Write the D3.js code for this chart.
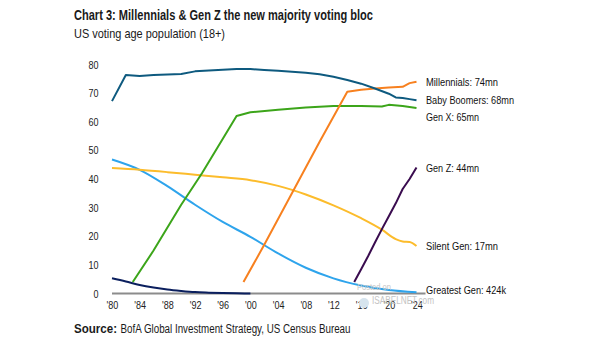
<!DOCTYPE html>
<html><head><meta charset="utf-8">
<script src="https://cdn.jsdelivr.net/npm/d3@7"></script>
<style>
body{margin:0;background:#fff;}
svg{display:block;}
text{font-family:"Liberation Sans",Arial,sans-serif;}
</style></head>
<body><svg id="c" width="605" height="341"></svg>
<script>
const yTicks = [0,10,20,30,40,50,60,70,80];
const xTicks = [1980,1984,1988,1992,1996,2000,2004,2008,2012,2016,2020,2024];
const xTickLabels = ["'80","'84","'88","'92","'96","'00","'04","'08","'12","'16","'20","'24"];

const boomersYears = [1980,1982,1984,1986,1988,1990,1992,1994,1996,1998,2000,2002,2004,2006,2008,2010,2012,2014,2016,2018,2020,2021,2022,2023,2024];
const boomersVals  = [67.2,76.3,76.0,76.3,76.5,76.7,77.6,77.9,78.2,78.4,78.4,78.1,77.8,77.5,77.1,76.6,75.7,74.6,73.3,71.6,69.8,68.5,68.3,67.9,67.5];

const millYears = [1999,2002,2006,2010,2014,2016,2018,2020,2022,2023,2024];
const millVals  = [4,17,35,53,70.5,71.2,71.6,72.0,72.2,73.5,74.0];

const genXYears = [1983,1986,1990,1993,1998,2000,2004,2008,2012,2016,2019,2020,2022,2024];
const genXVals  = [4,15,31,42,62,63.3,64.2,65.0,65.5,65.5,65.3,65.9,65.5,64.8];

const genZYears = [2015,2016,2017,2018,2019,2020,2021,2022,2023,2024];
const genZVals  = [4,8.5,13,17.8,22.5,27,31.5,36.5,40,44];

const silentYears = [1980,1984,1988,1992,1996,2000,2004,2008,2012,2016,2019,2021,2022,2023,2024];
const silentVals  = [43.8,43.2,42.4,41.5,40.6,39.6,37.6,34.6,30.8,26.3,22.3,19.0,18.2,18.0,16.6];

const greatestYears = [1980,1984,1988,1992,1996,2000,2004,2008,2012,2016,2020,2024];
const greatestVals  = [46.8,43.2,37.5,31.0,25.0,19.8,14.0,9.0,5.3,2.8,1.2,0.42];

const oldestYears = [1980,1982,1984,1986,1988,1990,1992,1994,1996,1998,2000];
const oldestVals  = [5.3,4.2,3.0,2.1,1.4,0.9,0.5,0.3,0.15,0.05,0];

const seriesNames = ["Greatest Gen","Oldest","Silent Gen","Gen X","Millennials","Baby Boomers","Gen Z"];
const endLabels = ["Millennials: 74mn","Baby Boomers: 68mn","Gen X: 65mn","Gen Z: 44mn","Silent Gen: 17mn","Greatest Gen: 424k"];
const endLabelY = [73.8,67.4,61.5,43.9,16.5,1.2];
const endLabelW = [72,88,53,53,72,80];

const svg = d3.select("#c");
const x = d3.scaleLinear().domain([1980,2024]).range([112,416.5]);
const y = d3.scaleLinear().domain([0,80]).range([293.5,64.5]);

function squeeze(sel, target){
  sel.each(function(){
    const w = this.getComputedTextLength();
    const t = (typeof target === "function") ? target(w) : target;
    d3.select(this).attr("textLength", t).attr("lengthAdjust","spacingAndGlyphs");
  });
}

// titles
svg.append("text").attr("x",74).attr("y",19.5).attr("font-size",14).attr("font-weight","bold").attr("fill","#1a1a1a")
  .text("Chart 3: Millennials & Gen Z the new majority voting bloc").call(squeeze,299);
svg.append("text").attr("x",74).attr("y",37.5).attr("font-size",13).attr("fill","#1a1a1a")
  .text("US voting age population (18+)").call(squeeze,151);

// y axis labels
const yAxis = d3.axisLeft(y).tickValues(yTicks).tickSize(0).tickPadding(0);
const gy = svg.append("g").attr("transform","translate(98.5,0)").call(yAxis);
gy.select(".domain").remove();
gy.selectAll("text").attr("font-size",11).attr("fill","#222").style("font-family",'"Liberation Sans",Arial,sans-serif')
  .call(squeeze, w=>w*0.82);

// x axis labels
const xAxis = d3.axisBottom(x).tickValues(xTicks).tickFormat((d,i)=>xTickLabels[i]).tickSize(0).tickPadding(0);
const gx = svg.append("g").attr("transform","translate(0,301)").call(xAxis);
gx.select(".domain").remove();
gx.selectAll("text").attr("font-size",11).attr("fill","#222").style("font-family",'"Liberation Sans",Arial,sans-serif')
  .call(squeeze, w=>w*0.82);

// baseline
svg.append("line").attr("x1",x(1980)).attr("x2",x(2024)+9).attr("y1",y(0)).attr("y2",y(0))
  .attr("stroke","#8c8c8c").attr("stroke-width",2);

function zip(a,b){return a.map((v,i)=>[v,b[i]]);}
const smooth = d3.line().x(d=>x(d[0])).y(d=>y(d[1])).curve(d3.curveMonotoneX);
const straight = d3.line().x(d=>x(d[0])).y(d=>y(d[1]));
const series = [
  {name:seriesNames[0],data:zip(greatestYears,greatestVals),color:"#2ea4ec",gen:smooth},
  {name:seriesNames[1],data:zip(oldestYears,oldestVals),color:"#0b1f5e",gen:smooth},
  {name:seriesNames[2],data:zip(silentYears,silentVals),color:"#fcbc2c",gen:smooth},
  {name:seriesNames[3],data:zip(genXYears,genXVals),color:"#3ca51a",gen:straight},
  {name:seriesNames[4],data:zip(millYears,millVals),color:"#f7801f",gen:straight},
  {name:seriesNames[5],data:zip(boomersYears,boomersVals),color:"#0e5a7f",gen:straight},
  {name:seriesNames[6],data:zip(genZYears,genZVals),color:"#3a0c4f",gen:straight}
];
svg.selectAll("path.s").data(series).enter().append("path").attr("class","s")
  .attr("d",d=>d.gen(d.data)).attr("fill","none").attr("stroke",d=>d.color)
  .attr("stroke-width",2).attr("stroke-linejoin","round");

// end labels
svg.selectAll("text.lab").data(endLabels).enter().append("text").attr("class","lab")
  .attr("x",x(2024)+9.5).attr("y",(d,i)=>y(endLabelY[i])).attr("dy","0.35em")
  .attr("font-size",11).attr("fill","#111").text(d=>d)
  .each(function(d,i){ d3.select(this).attr("textLength",endLabelW[i]).attr("lengthAdjust","spacingAndGlyphs"); });

// watermark
svg.append("text").attr("x",357).attr("y",290).attr("font-size",8.5).attr("fill","#c4c4c4").text("Posted on").call(squeeze,34);
svg.append("circle").attr("cx",364).attr("cy",303).attr("r",5).attr("fill","#d6e4ee");
svg.append("text").attr("x",372).attr("y",304).attr("font-size",10).attr("fill","#c4c4c4").text("ISABELNET.com").call(squeeze,62);

// source
svg.append("text").attr("x",74).attr("y",333).attr("font-size",12).attr("font-weight","bold").attr("fill","#1a1a1a")
  .text("Source:").call(squeeze,43);
svg.append("text").attr("x",120.5).attr("y",333).attr("font-size",12).attr("fill","#1a1a1a")
  .text("BofA Global Investment Strategy, US Census Bureau").call(squeeze,230);
</script></body></html>
